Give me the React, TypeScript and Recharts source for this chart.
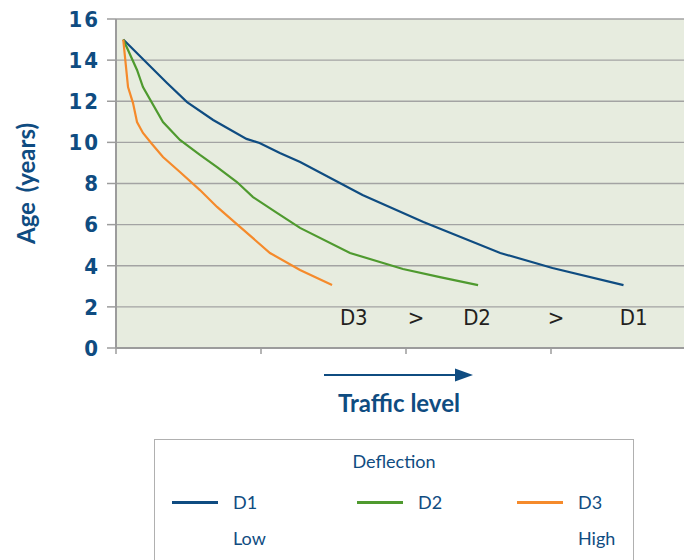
import React from "react";
import { LineChart, Line, XAxis, YAxis, CartesianGrid, ReferenceDot } from "recharts";

// Axis ticks
const TRAFFIC_TICKS = [0, 1, 2, 3];
const AGE_TICKS = [0, 2, 4, 6, 8, 10, 12, 14, 16];

// Deflection curves: traffic level (relative units) vs. age in years
const D1_TRAFFIC = [0.05, 0.35, 0.49, 0.67, 0.9, 0.99, 1.13, 1.27, 1.7, 2.12, 2.65, 3.01, 3.5];
const D1_AGE = [15.0, 12.9, 11.96, 11.09, 10.17, 9.97, 9.48, 9.05, 7.44, 6.13, 4.62, 3.89, 3.06];

const D2_TRAFFIC = [0.05, 0.145, 0.186, 0.324, 0.441, 0.579, 0.697, 0.834, 0.945, 1.11, 1.269, 1.614, 1.979, 2.234, 2.497];
const D2_AGE = [15.0, 13.52, 12.69, 10.99, 10.12, 9.39, 8.8, 8.07, 7.34, 6.57, 5.84, 4.62, 3.84, 3.45, 3.06];

const D3_TRAFFIC = [0.05, 0.083, 0.117, 0.145, 0.186, 0.248, 0.324, 0.441, 0.579, 0.697, 0.855, 1.062, 1.269, 1.49];
const D3_AGE = [15.0, 12.69, 11.92, 10.99, 10.46, 9.92, 9.29, 8.56, 7.68, 6.86, 5.89, 4.62, 3.79, 3.06];

// In-plot ordering note
const ORDER_LABELS = ["D3", ">", "D2", ">", "D1"];
const ORDER_TRAFFIC = [1.64, 2.07, 2.49, 3.034, 3.57];
const ORDER_AGE = 1.5;

// Legend
const SERIES_NAMES = ["D1", "D2", "D3"];
const SERIES_COLORS = ["#0f4c81", "#4f9a2f", "#f58a2b"];
const SERIES_NOTES = ["Low", "", "High"];
const LEGEND_TITLE = "Deflection";

const zip = (xs: number[], ys: number[]) => xs.map((x, i) => ({ x, age: ys[i] }));
const SERIES_DATA = [zip(D1_TRAFFIC, D1_AGE), zip(D2_TRAFFIC, D2_AGE), zip(D3_TRAFFIC, D3_AGE)];

const BLUE = "#0f4c81";
const AXIS_GREY = "#9c9c9c";
const NARROW = "'Liberation Sans Narrow', 'DejaVu Sans Condensed', 'Liberation Sans', sans-serif";
const HUMANIST = "Lato, 'Open Sans', sans-serif";

const emptyTick = () => <g />;

const TrafficLabel = (props: any) => {
  const vb = props.viewBox || { x: 116, y: 348, width: 580, height: 70 };
  const cx = vb.x + vb.width / 2 - 7;
  const ay = vb.y + 27;
  return (
    <g>
      <line x1={cx - 75} y1={ay} x2={cx + 58} y2={ay} stroke={BLUE} strokeWidth={2.2} />
      <polygon points={`${cx + 56},${ay - 6.5} ${cx + 74},${ay} ${cx + 56},${ay + 6.5}`} fill={BLUE} />
      <text x={cx} y={vb.y + 64} textAnchor="middle" fill={BLUE} fontFamily={HUMANIST} fontWeight={700} fontSize={24}>
        Traffic level
      </text>
    </g>
  );
};

const AgeLabel = (props: any) => {
  const vb = props.viewBox || { x: 56, y: 19, width: 60, height: 329 };
  const x = vb.x - 31;
  const y = vb.y + vb.height / 2;
  return (
    <text
      x={x}
      y={y}
      transform={`rotate(-90, ${x}, ${y})`}
      textAnchor="middle"
      dominantBaseline="central"
      fill={BLUE}
      fontFamily={HUMANIST}
      fontWeight={700}
      fontSize={24}
      wordSpacing={4}
    >
      Age (years)
    </text>
  );
};

const orderText = (label: string) => (props: any) => (
  <text
    x={props.cx}
    y={props.cy}
    textAnchor="middle"
    dominantBaseline="central"
    fill="#231f20"
    fontFamily={NARROW}
    fontSize={22}
  >
    {label}
  </text>
);

// Column offsets of the three legend entries inside the box
const LEGEND_COLS = [17, 202, 362];

const LegendBox = () => (
  <div
    style={{
      position: "absolute",
      left: 154,
      top: 439,
      width: 480,
      height: 140,
      border: "1.5px solid #b0b0b0",
      boxSizing: "border-box",
      fontFamily: HUMANIST,
      color: BLUE,
      fontSize: 18,
    }}
  >
    <div style={{ position: "absolute", top: 9, left: 0, width: "100%", textAlign: "center", lineHeight: "24px" }}>
      {LEGEND_TITLE}
    </div>
    {SERIES_NAMES.map((name, i) => (
      <div key={name} style={{ position: "absolute", left: LEGEND_COLS[i], top: 50 }}>
        <div style={{ position: "absolute", left: 0, top: 11, width: 46, height: 3, background: SERIES_COLORS[i] }} />
        <div style={{ position: "absolute", left: 61, top: 0, lineHeight: "24px", whiteSpace: "nowrap" }}>{name}</div>
        <div style={{ position: "absolute", left: 61, top: 36, lineHeight: "24px", whiteSpace: "nowrap" }}>
          {SERIES_NOTES[i]}
        </div>
      </div>
    ))}
  </div>
);

export default function App() {
  return (
    <div
      style={{
        position: "fixed",
        left: 0,
        top: 0,
        width: 684,
        height: 560,
        overflow: "hidden",
        background: "#ffffff",
      }}
    >
      <LineChart width={700} height={560} margin={{ top: 19, right: 4, left: 56, bottom: 142 }}>
        <CartesianGrid vertical={false} stroke="#a3a3a3" strokeWidth={1.3} fill="#e7ecdf" fillOpacity={1} />
        <XAxis
          type="number"
          dataKey="x"
          domain={[0, 4]}
          ticks={TRAFFIC_TICKS}
          tick={emptyTick}
          tickSize={6}
          height={70}
          axisLine={{ stroke: AXIS_GREY, strokeWidth: 2 }}
          tickLine={{ stroke: AXIS_GREY, strokeWidth: 1.5 }}
          label={<TrafficLabel />}
          allowDataOverflow
        />
        <YAxis
          type="number"
          dataKey="age"
          domain={[0, 16]}
          ticks={AGE_TICKS}
          width={60}
          tickSize={9}
          tickMargin={7}
          axisLine={{ stroke: AXIS_GREY, strokeWidth: 2 }}
          tickLine={{ stroke: AXIS_GREY, strokeWidth: 1.5 }}
          tick={{ fill: BLUE, fontFamily: NARROW, fontWeight: 700, fontSize: 22, letterSpacing: 2 }}
          label={<AgeLabel />}
          allowDataOverflow
        />
        {SERIES_DATA.map((data, i) => (
          <Line
            key={SERIES_NAMES[i]}
            data={data}
            dataKey="age"
            name={SERIES_NAMES[i]}
            type="linear"
            stroke={SERIES_COLORS[i]}
            strokeWidth={2.2}
            dot={false}
            activeDot={false}
            isAnimationActive={false}
          />
        ))}
        {ORDER_LABELS.map((label, i) => (
          <ReferenceDot
            key={i}
            x={ORDER_TRAFFIC[i]}
            y={ORDER_AGE}
            r={0}
            shape={orderText(label)}
          />
        ))}
      </LineChart>
      <LegendBox />
    </div>
  );
}
